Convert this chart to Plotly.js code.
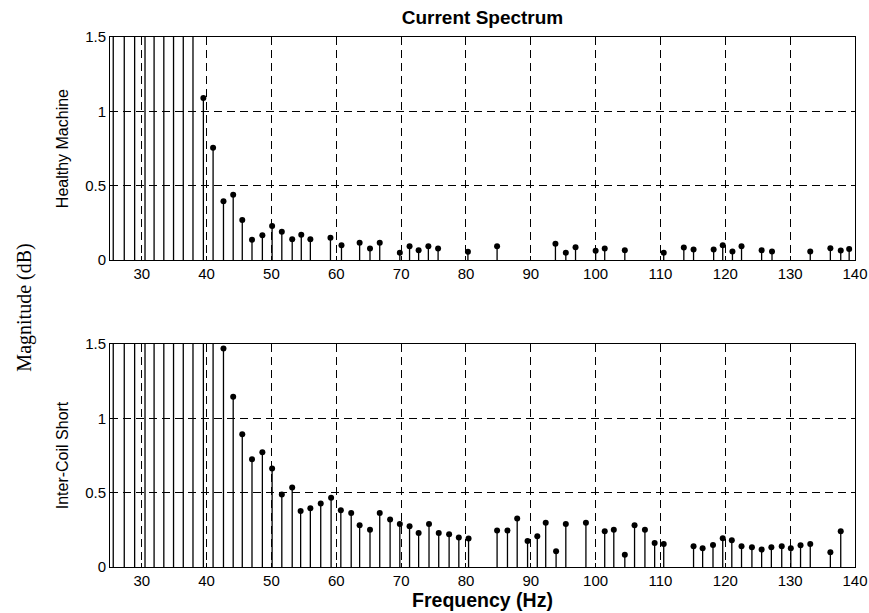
<!DOCTYPE html>
<html>
<head>
<meta charset="utf-8">
<script src="https://cdn.plot.ly/plotly-3.0.1.min.js"></script>
<style>
  html, body { margin: 0; padding: 0; background: #ffffff; }
  #chart { width: 869px; height: 613px; }
</style>
</head>
<body>
<div id="chart"></div>
<script>
// ---- Data ----
// Stems whose magnitude exceeds the 1.5 axis limit are given an estimated off-scale value of 3.
const freqHealthy = [25.6, 27.3, 28.9, 30.5, 31.9, 33.4, 34.9, 36.4, 37.9,
  39.5, 41.0, 42.6, 44.1, 45.5, 47.0, 48.6, 50.1, 51.6, 53.2, 54.6, 56.0, 59.1, 60.8,
  63.6, 65.2, 66.7, 69.8, 71.3, 72.7, 74.2, 75.7, 80.3, 84.8, 93.8, 95.4, 96.9, 100.0,
  101.4, 104.5, 110.5, 113.6, 115.1, 118.2, 119.6, 121.1, 122.5, 125.6, 127.2, 133.1,
  136.2, 137.8, 139.1];
const magHealthy = [3, 3, 3, 3, 3, 3, 3, 3, 3,
  1.09, 0.755, 0.395, 0.44, 0.27, 0.137, 0.168, 0.23, 0.19, 0.14, 0.17, 0.14, 0.15, 0.10,
  0.117, 0.078, 0.117, 0.05, 0.094, 0.067, 0.094, 0.078, 0.056, 0.094, 0.11, 0.05, 0.087, 0.063,
  0.078, 0.067, 0.05, 0.085, 0.072, 0.072, 0.10, 0.058, 0.094, 0.067, 0.058, 0.058,
  0.08, 0.065, 0.074];

const freqShort = [25.6, 27.3, 28.9, 30.5, 31.9, 33.4, 34.9, 36.4, 37.9, 39.5, 41.0,
  42.6, 44.1, 45.5, 47.0, 48.6, 50.1, 51.6, 53.2, 54.5, 56.0, 57.6, 59.2, 60.7, 62.3,
  63.6, 65.2, 66.7, 68.3, 69.8, 71.3, 72.7, 74.3, 75.8, 77.4, 78.9, 80.4, 84.8, 86.4,
  87.9, 89.5, 91.0, 92.3, 93.9, 95.4, 98.5, 101.4, 102.8, 104.5, 106.0, 107.6, 109.1,
  110.5, 115.1, 116.5, 118.1, 119.6, 121.0, 122.5, 124.1, 125.6, 127.1, 128.7, 130.1,
  131.6, 133.1, 136.2, 137.8];
const magShort = [3, 3, 3, 3, 3, 3, 3, 3, 3, 3, 3,
  1.47, 1.145, 0.893, 0.724, 0.771, 0.663, 0.488, 0.535, 0.376, 0.396, 0.427, 0.465, 0.382, 0.364,
  0.281, 0.25, 0.364, 0.319, 0.29, 0.274, 0.229, 0.29, 0.229, 0.22, 0.198, 0.191, 0.245, 0.245,
  0.326, 0.175, 0.207, 0.297, 0.106, 0.29, 0.297, 0.24, 0.25, 0.083, 0.281, 0.25, 0.162,
  0.155, 0.139, 0.126, 0.148, 0.193, 0.18, 0.139, 0.133, 0.117, 0.133, 0.139, 0.126,
  0.146, 0.155, 0.099, 0.24];

const xTicks = [30, 40, 50, 60, 70, 80, 90, 100, 110, 120, 130, 140];
const yTicks = [0, 0.5, 1, 1.5];
const yTickText = ['0', '0.5', '1', '1.5'];

const chartTitle = 'Current Spectrum';
const xTitle = 'Frequency (Hz)';
const yTitleTop = 'Healthy Machine';
const yTitleBottom = 'Inter-Coil Short';
const yTitleAll = 'Magnitude (dB)';

// ---- Build stem segments from data ----
function stems(f, m) {
  const x = [], y = [];
  f.forEach((v, i) => { x.push(v, v, null); y.push(0, m[i], null); });
  return { x, y };
}
const sH = stems(freqHealthy, magHealthy);
const sS = stems(freqShort, magShort);

const SANS = 'Liberation Sans, Arial, Helvetica, sans-serif';
const stemLine = { color: '#000000', width: 1.3 };
const mark = { color: '#000000', size: 6, symbol: 'circle' };

const traces = [
  { x: sH.x, y: sH.y, mode: 'lines', line: stemLine, xaxis: 'x', yaxis: 'y', hoverinfo: 'skip', showlegend: false },
  { x: freqHealthy, y: magHealthy, mode: 'markers', marker: mark, xaxis: 'x', yaxis: 'y', showlegend: false },
  { x: sS.x, y: sS.y, mode: 'lines', line: stemLine, xaxis: 'x2', yaxis: 'y2', hoverinfo: 'skip', showlegend: false },
  { x: freqShort, y: magShort, mode: 'markers', marker: mark, xaxis: 'x2', yaxis: 'y2', showlegend: false }
];

function xAxis(anchor, withTitle) {
  const a = {
    anchor: anchor, domain: [0, 1], range: [25.1, 140],
    tickmode: 'array', tickvals: xTicks,
    ticks: 'inside', ticklen: 4, tickcolor: '#000', mirror: 'ticks',
    showline: true, linecolor: '#000', linewidth: 1,
    showgrid: true, gridcolor: '#000', gridwidth: 1, griddash: '8px,5px',
    zeroline: false,
    tickfont: { family: SANS, size: 15, color: '#000' }
  };
  if (withTitle) {
    a.title = { text: xTitle, font: { family: SANS, size: 19.5, color: '#000', weight: 'bold' }, standoff: 3 };
  }
  return a;
}
function yAxis(anchor, domain, title) {
  return {
    anchor: anchor, domain: domain, range: [0, 1.5],
    tickmode: 'array', tickvals: yTicks, ticktext: yTickText,
    ticks: 'inside', ticklen: 4, tickcolor: '#000', mirror: 'ticks',
    showline: true, linecolor: '#000', linewidth: 1,
    showgrid: true, gridcolor: '#000', gridwidth: 1, griddash: '8px,5px',
    zeroline: false,
    tickfont: { family: SANS, size: 15, color: '#000' },
    title: { text: title, font: { family: SANS, size: 16, color: '#000' }, standoff: 12 }
  };
}

const layout = {
  width: 869, height: 613,
  paper_bgcolor: '#ffffff', plot_bgcolor: '#ffffff',
  margin: { l: 110, r: 14, t: 37, b: 46 },
  title: {
    text: '<b>' + chartTitle + '</b>',
    font: { family: SANS, size: 19, color: '#000' },
    x: 0.5, xref: 'paper', y: 1 - 17 / 613, yref: 'container', yanchor: 'middle'
  },
  xaxis: xAxis('y', false),
  yaxis: yAxis('x', [0.579, 1], yTitleTop),
  xaxis2: xAxis('y2', true),
  yaxis2: yAxis('x2', [0, 0.4208], yTitleBottom),
  annotations: [{
    text: yTitleAll, xref: 'paper', yref: 'paper',
    x: -0.115, y: 0.49, xanchor: 'center', yanchor: 'middle',
    textangle: -90, showarrow: false,
    font: { family: 'Liberation Serif, Times New Roman, serif', size: 20, color: '#000' }
  }],
  showlegend: false
};

Plotly.newPlot('chart', traces, layout, { displayModeBar: false, staticPlot: true });
</script>
</body>
</html>
